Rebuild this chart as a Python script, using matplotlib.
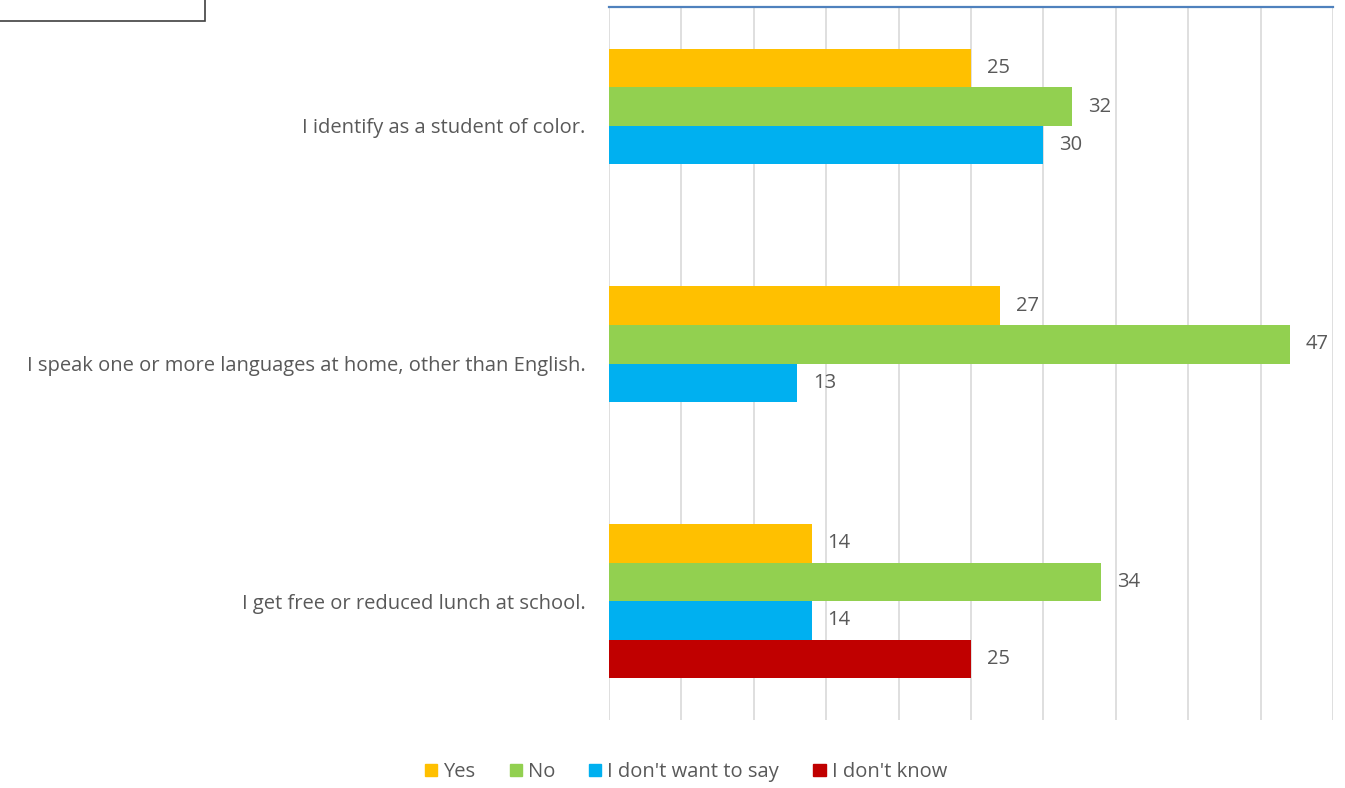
import matplotlib.pyplot as plt
import numpy as np
from matplotlib.patches import Rectangle

plt.rcParams['font.family'] = ['Open Sans', 'DejaVu Sans']

# survey questions and answer counts
questions = ['I identify as a student of color.',
             'I speak one or more languages at home, other than English.',
             'I get free or reduced lunch at school.']
series = ['Yes', 'No', "I don't want to say", "I don't know"]
yes = [25, 27, 14]
no = [32, 47, 34]
no_say = [30, 13, 14]
dont_know = [None, None, 25]
colors = ['#FFC000', '#92D050', '#00B0F0', '#C00000']

fig = plt.figure(figsize=(13.45, 7.88), dpi=100)
ax = fig.add_axes([609/1345, 1-720/788, (1333-609)/1345, (720-7)/788])

bar_h = 0.162
y = np.arange(len(questions))
text_col = '#595959'
fs = 14.5
for i, vals in enumerate([yes, no, no_say, dont_know]):
    for j, v in enumerate(vals):
        if v is None:
            continue
        yc = y[j] - 1.5 * bar_h + i * bar_h
        ax.barh(yc, v, height=bar_h, color=colors[i], zorder=3)
        ax.text(v + 1.1, yc, str(v), va='center', ha='left',
                fontsize=fs, color=text_col, zorder=4)

ax.set_xlim(0, 50)
ax.set_ylim(2.5, -0.5)
ax.set_xticks(np.arange(0, 51, 5))
ax.set_xticklabels([])
ax.tick_params(axis='x', length=0)
ax.tick_params(axis='y', length=0, pad=17)
ax.set_yticks(y)
ax.set_yticklabels(questions, fontsize=fs, color=text_col)
ax.grid(axis='x', color='#D9D9D9', linewidth=1.2, zorder=0)
for s in ['left', 'right', 'bottom']:
    ax.spines[s].set_visible(False)
ax.spines['top'].set_color('#4F81BD')
ax.spines['top'].set_linewidth(1.6)

# legend
handles = [Rectangle((0, 0), 1, 1, color=c) for c in colors]
fig.legend(handles, series, loc='center', bbox_to_anchor=(686/1345, 1-772/788),
           ncol=4, frameon=False, fontsize=fs, handlelength=0.6,
           handleheight=0.6, handletextpad=0.3, columnspacing=1.7,
           labelcolor=text_col)

# box in the top-left corner
fig.patches.append(Rectangle((-0.01, 1-21/788), 205/1345 + 0.01, 0.05,
                             transform=fig.transFigure, fill=False,
                             edgecolor='#404040', linewidth=1.2))

fig.savefig('out.png', dpi=100)
